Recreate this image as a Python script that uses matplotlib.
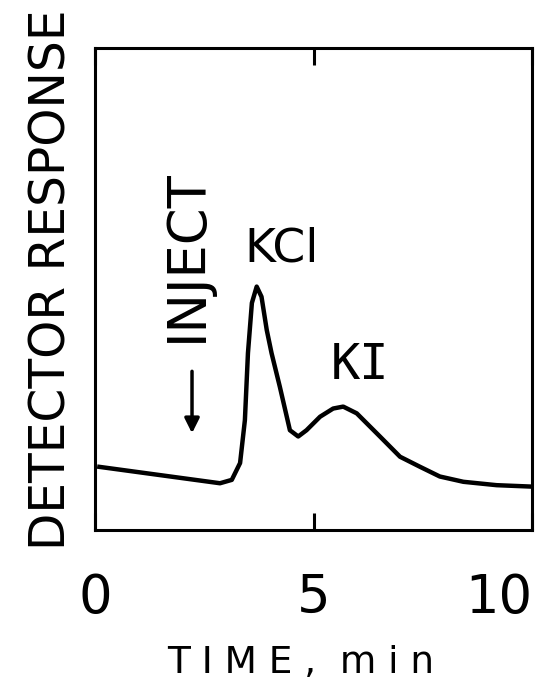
import numpy as np
import matplotlib.pyplot as plt

# chromatogram trace (time in min, response in % of axis height)
time = [0.1, 2.86, 3.13, 3.32, 3.43, 3.50, 3.59, 3.70, 3.81, 3.93, 4.04, 4.23,
        4.46, 4.65, 4.84, 5.15, 5.45, 5.68, 5.99, 6.52, 6.98, 7.44, 7.89, 8.43,
        9.19, 10.0]
response = [13.1, 9.7, 10.4, 13.9, 22.8, 36.7, 47.1, 50.5, 48.4, 41.5, 36.7, 29.7,
            20.7, 19.4, 20.7, 23.5, 25.2, 25.6, 24.2, 19.4, 15.2, 13.1, 11.1, 10.0,
            9.3, 9.0]
xticks = [0, 5, 10]
xticklabels = ['0', '5', '10']

fig = plt.figure(figsize=(5.51, 6.89), dpi=100)
ax = fig.add_axes([95 / 551, 1 - 530 / 689, 437 / 551, 482 / 689])

ax.plot(time, response, color='black', lw=3.2, solid_joinstyle='round')
ax.set_xlim(0, 10)
ax.set_ylim(0, 100)

for sp in ax.spines.values():
    sp.set_linewidth(2.2)

ax.set_xticks(xticks)
ax.set_xticklabels(xticklabels, fontsize=38)
ax.get_xticklabels()[-1].set_ha('right')
ax.tick_params(axis='x', direction='in', top=True, length=12, width=2.2, pad=30)
ax.set_yticks([])

# annotations
ax.text(4.26, 58.3, 'KCl', fontsize=34, ha='center', va='center')
ax.text(6.06, 34.2, 'KI', fontsize=35, ha='center', va='center',
        family='DejaVu Sans Mono')
ax.text(2.1, 57, 'INJECT', fontsize=38, rotation=90, ha='center', va='center')
ax.annotate('', xy=(2.22, 19.5), xytext=(2.22, 33.5),
            arrowprops=dict(arrowstyle='-|>', color='black', lw=2.5,
                            mutation_scale=22))

fig.text(52 / 551, 1 - 280 / 689, 'DETECTOR RESPONSE', fontsize=35,
         rotation=90, ha='center', va='center')
fig.text(301 / 551, 1 - 663 / 689, 'T I M E ,  m i n', fontsize=27,
         ha='center', va='center')

plt.savefig('out.png', dpi=100)
